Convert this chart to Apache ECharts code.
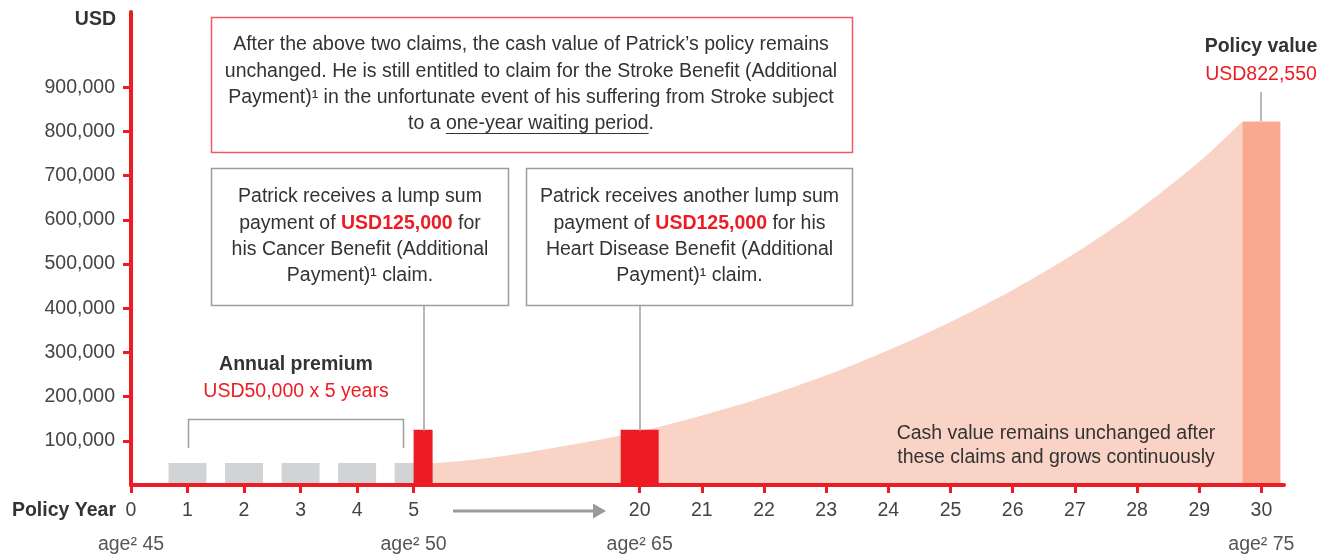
<!DOCTYPE html>
<html>
<head>
<meta charset="utf-8">
<script src="https://cdn.jsdelivr.net/npm/echarts@6/dist/echarts.min.js"></script>
<style>
  html, body { margin: 0; padding: 0; background: #fff; }
  #main { width: 1332px; height: 556px; }
</style>
</head>
<body>
<div id="main"></div>
<script>
// policy years shown on the axis (the axis is broken between 5 and 20)
var yearTicks = [0, 1, 2, 3, 4, 5, 20, 21, 22, 23, 24, 25, 26, 27, 28, 29, 30];
var ageYears = [0, 5, 20, 30];
var ages = [45, 50, 65, 75];
var usdTicks = [100000, 200000, 300000, 400000, 500000, 600000, 700000, 800000, 900000];

// annual premium paid
var premiumYears = [1, 2, 3, 4, 5];
var premiumAmounts = [50000, 50000, 50000, 50000, 50000];

// lump sum claims
var claimYears = [5, 20];
var claimAmounts = [125000, 125000];

// cash value
var cashYears = [5, 10, 15, 20, 21, 22, 23, 24, 25, 26, 27, 28, 29, 30];
var cashValues = [45000, 61000, 88000, 121000, 157000, 199000, 248000, 305000, 369000, 441000, 524000, 620000, 731000, 822550];

var policyYear = 30;
var policyValue = 822550;

var RED = '#ed1c24';
var TXT = '#333333';
var FONT = '"Liberation Sans", Arial, sans-serif';
var FS = 19.5;

var chart = echarts.init(document.getElementById('main'));

var xMax = 20.4;
var unitPx = (1332 - 131 - 48) / xMax;

// years 0-5 take one unit each, 5-20 is squeezed into 4 units, 20-30 take 1.1 units each
function pos(year) {
  if (year <= 5) return year;
  if (year < 20) return 5 + (year - 5) * 4 / 15;
  return 9 + (year - 20) * 1.1;
}

var labelOf = {};
yearTicks.forEach(function (y) { labelOf[pos(y).toFixed(2)] = String(y); });
var ageOf = {};
ageYears.forEach(function (y, i) { ageOf[pos(y).toFixed(2)] = ages[i]; });

var cashData = cashYears.map(function (y, i) {
  var x = pos(y);
  if (y === policyYear) x -= 19 / unitPx; // the area stops at the policy value bar
  return [x, cashValues[i]];
});

function rectSeries(data, color, z) {
  return {
    type: 'custom',
    z: z,
    silent: true,
    data: data,
    renderItem: function (params, api) {
      var top = api.coord([api.value(0), api.value(1)]);
      var base = api.coord([api.value(0), 0]);
      var w = 38, x = top[0] - w / 2;
      if (api.value(2) === 1) { w = 19; x = top[0]; } // sits beside the premium bar
      return {
        type: 'rect',
        shape: { x: x, y: top[1], width: w, height: base[1] - top[1] },
        style: { fill: color }
      };
    }
  };
}

var premiumData = premiumYears.map(function (y, i) { return [pos(y), premiumAmounts[i], 0]; });
var claimData = claimYears.map(function (y, i) {
  return [pos(y), claimAmounts[i], premiumYears.indexOf(y) >= 0 ? 1 : 0];
});
var policyData = [[pos(policyYear), policyValue, 0]];

function txt(text, x, y, opt) {
  opt = opt || {};
  return {
    type: 'text',
    z: 100,
    style: {
      text: text, x: x, y: y,
      align: opt.align || 'center', textAlign: opt.align || 'center',
      verticalAlign: 'middle', textVerticalAlign: 'middle',
      fontSize: opt.size || FS, fontFamily: FONT,
      fontWeight: opt.weight || 'normal',
      fill: opt.color || TXT,
      lineHeight: opt.lh || 26.3,
      rich: opt.rich
    }
  };
}

var richRed = {
  r: { fontSize: FS, fontFamily: FONT, fontWeight: 'bold', fill: RED, color: RED }
};

// underline under "one-year waiting period"
var ctx = document.createElement('canvas').getContext('2d');
ctx.font = FS + 'px ' + FONT;
var lastLine = 'to a one-year waiting period.';
var lw = ctx.measureText(lastLine).width;
var ulStart = 531 - lw / 2 + ctx.measureText('to a ').width;
var ulEnd = ulStart + ctx.measureText('one-year waiting period').width;

var graphics = [
  { type: 'rect', z: 100, shape: { x: 211.5, y: 17.5, width: 641, height: 135 },
    style: { fill: 'none', stroke: '#ef5a60', lineWidth: 1.5 } },
  txt('After the above two claims, the cash value of Patrick\u2019s policy remains\n' +
      'unchanged. He is still entitled to claim for the Stroke Benefit (Additional\n' +
      'Payment)\u00b9 in the unfortunate event of his suffering from Stroke subject\n' +
      lastLine, 531, 84.5),
  { type: 'line', z: 100, shape: { x1: ulStart, y1: 133.5, x2: ulEnd, y2: 133.5 },
    style: { stroke: TXT, lineWidth: 1 } },

  { type: 'rect', z: 100, shape: { x: 211.5, y: 168.5, width: 297, height: 137 },
    style: { fill: '#fff', stroke: '#9d9d9d', lineWidth: 1.5 } },
  txt('Patrick receives a lump sum\npayment of {r|USD125,000} for\nhis Cancer Benefit (Additional\nPayment)\u00b9 claim.',
      360, 236.5, { rich: richRed }),
  { type: 'rect', z: 100, shape: { x: 526.5, y: 168.5, width: 326, height: 137 },
    style: { fill: '#fff', stroke: '#9d9d9d', lineWidth: 1.5 } },
  txt('Patrick receives another lump sum\npayment of {r|USD125,000} for his\nHeart Disease Benefit (Additional\nPayment)\u00b9 claim.',
      689.5, 236.5, { rich: richRed }),

  // leaders from boxes to claim bars
  { type: 'line', z: 100, shape: { x1: 424, y1: 306, x2: 424, y2: 431 }, style: { stroke: '#a0a0a0', lineWidth: 1.5 } },
  { type: 'line', z: 100, shape: { x1: 640, y1: 306, x2: 640, y2: 431 }, style: { stroke: '#a0a0a0', lineWidth: 1.5 } },

  // premium bracket
  { type: 'polyline', z: 100, shape: { points: [[188.5, 448], [188.5, 419.5], [403.5, 419.5], [403.5, 448]] },
    style: { fill: 'none', stroke: '#a0a0a0', lineWidth: 1.5 } },
  txt('Annual premium', 296, 365, { weight: 'bold' }),
  txt('USD50,000 x 5 years', 296, 392, { color: RED }),

  // policy value
  txt('Policy value', 1261, 47, { weight: 'bold' }),
  txt('USD822,550', 1261, 75, { color: RED }),
  { type: 'line', z: 100, shape: { x1: 1261, y1: 92, x2: 1261, y2: 121 }, style: { stroke: '#a0a0a0', lineWidth: 1.5 } },

  txt('Cash value remains unchanged after\nthese claims and grows continuously', 1056, 446, { lh: 24 }),

  txt('USD', 116, 20, { weight: 'bold', align: 'right' }),
  txt('Policy Year', 116, 511, { weight: 'bold', align: 'right' }),

  // arrow across the axis break
  { type: 'line', z: 100, shape: { x1: 453, y1: 511, x2: 595, y2: 511 }, style: { stroke: '#9a9a9a', lineWidth: 3 } },
  { type: 'polygon', z: 100, shape: { points: [[593, 503.5], [606, 511], [593, 518.5]] }, style: { fill: '#9a9a9a' } }
];

var option = {
  animation: false,
  grid: { left: 131, right: 48, top: 12, bottom: 71 },
  xAxis: [{
    type: 'value',
    min: 0,
    max: xMax,
    z: 5,
    splitLine: { show: false },
    axisLine: { show: true, lineStyle: { color: RED, width: 4 } },
    axisTick: { show: true, customValues: yearTicks.map(pos), length: 8, lineStyle: { color: RED, width: 3 } },
    axisLabel: {
      customValues: yearTicks.map(pos),
      margin: 16,
      fontSize: FS, fontFamily: FONT, color: '#444',
      formatter: function (v) { return labelOf[v.toFixed(2)] || ''; }
    }
  }, {
    type: 'value',
    min: 0,
    max: xMax,
    position: 'bottom',
    splitLine: { show: false },
    axisLine: { show: false },
    axisTick: { show: false },
    axisLabel: {
      customValues: ageYears.map(pos),
      margin: 50,
      fontSize: FS, fontFamily: FONT, color: '#555',
      formatter: function (v) { return 'age\u00b2 ' + ageOf[v.toFixed(2)]; }
    }
  }],
  yAxis: {
    type: 'value',
    min: 0,
    max: 1070000,
    z: 5,
    splitLine: { show: false },
    axisLine: { show: true, lineStyle: { color: RED, width: 4 } },
    axisTick: { show: true, customValues: usdTicks, length: 8, lineStyle: { color: RED, width: 3 } },
    axisLabel: {
      customValues: usdTicks,
      margin: 16,
      fontSize: FS, fontFamily: FONT, color: '#444',
      formatter: function (v) { return v.toLocaleString('en-US'); }
    }
  },
  series: [
    {
      type: 'line',
      name: 'Cash value',
      data: cashData,
      smooth: 0.3,
      symbol: 'none',
      silent: true,
      z: 1,
      lineStyle: { width: 0 },
      areaStyle: { color: '#f9d3c6', opacity: 1 }
    },
    rectSeries(premiumData, '#d1d3d4', 2),
    rectSeries(claimData, RED, 3),
    rectSeries(policyData, '#f8a98f', 3)
  ],
  graphic: graphics
};

chart.setOption(option);
</script>
</body>
</html>
